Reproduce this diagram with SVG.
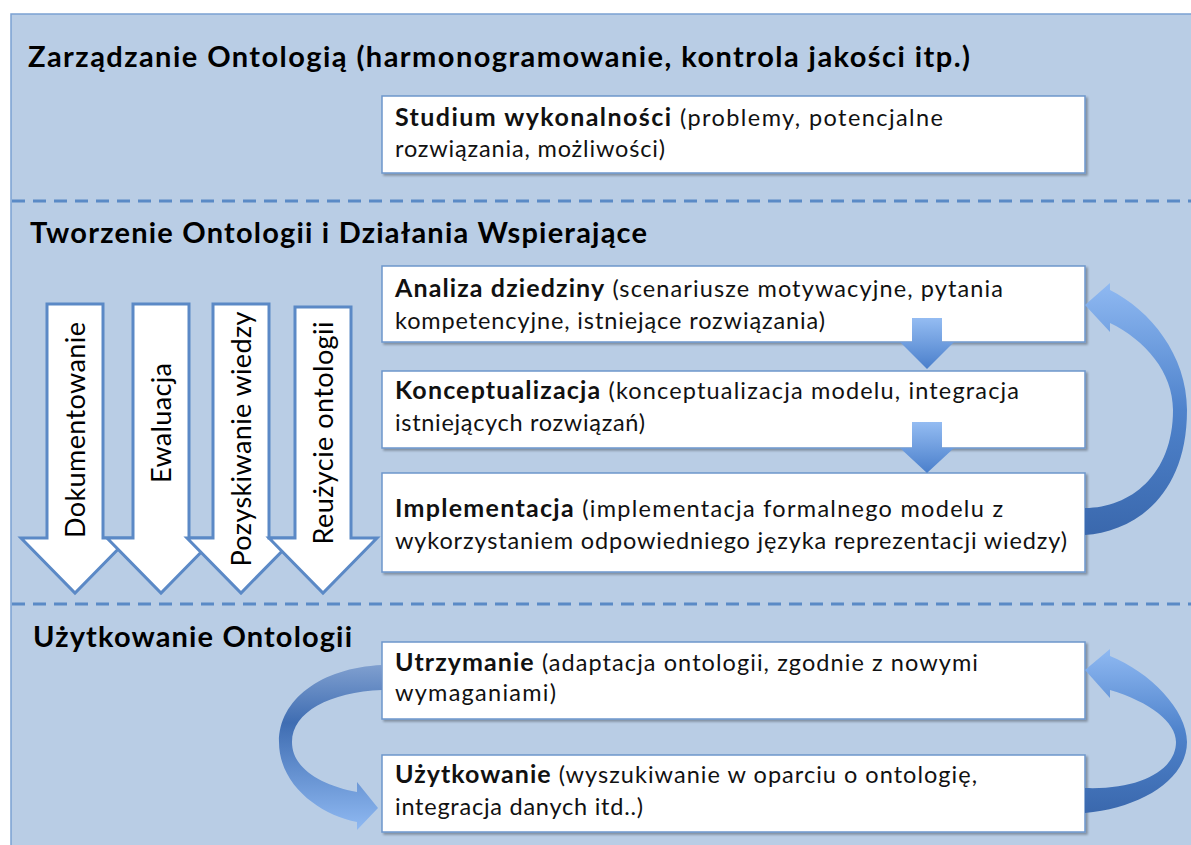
<svg xmlns="http://www.w3.org/2000/svg" width="1191" height="845" viewBox="0 0 1191 845">
<style>
.title{font-family:Lato,"Liberation Sans",sans-serif;font-weight:bold;font-size:29px;fill:#000}
.bt{font-family:Lato,"Liberation Sans",sans-serif;font-size:23.5px;fill:#111}
.b{font-weight:bold;font-size:25px}
.box{fill:#fff;stroke:#6d96cc;stroke-width:1.5;filter:url(#sh)}
.va{fill:#fff;stroke:#5b89c6;stroke-width:3;stroke-linejoin:miter}
.vt{font-family:Lato,"Liberation Sans",sans-serif;font-size:27px;fill:#000;text-anchor:middle}
.dash{stroke:#5a8ac6;stroke-width:3;stroke-dasharray:13 8}
</style>
<defs>
<filter id="sh" x="-5%" y="-10%" width="110%" height="130%">
<feDropShadow dx="2" dy="2" stdDeviation="1.2" flood-color="#000" flood-opacity="0.3"/>
</filter>
<linearGradient id="gd" x1="0" y1="0" x2="0" y2="1">
<stop offset="0" stop-color="#94bcf2"/>
<stop offset="1" stop-color="#4a7fcb"/>
</linearGradient>
<linearGradient id="gr" x1="0" y1="0" x2="0" y2="1">
<stop offset="0" stop-color="#8fb9f2"/>
<stop offset="0.5" stop-color="#4f83cc"/>
<stop offset="1" stop-color="#3a68ad"/>
</linearGradient>
<linearGradient id="gl" x1="0" y1="0" x2="0" y2="1">
<stop offset="0" stop-color="#7f9fcf"/>
<stop offset="0.35" stop-color="#3f6db2"/>
<stop offset="1" stop-color="#8fb9f2"/>
</linearGradient>
</defs>

<rect id="panel" x="11" y="14" width="1200" height="850" fill="#b9cde5" stroke="#7ba1d2" stroke-width="1.5"/>

<g id="separators">
<line class="dash" x1="12" y1="201" x2="1191" y2="201"/>
<line class="dash" x1="12" y1="604" x2="1191" y2="604"/>
</g>

<g id="section-titles">
<text class="title" x="28" y="67" textLength="942">Zarządzanie Ontologią (harmonogramowanie, kontrola jakości itp.)</text>
<text class="title" x="30" y="243" textLength="617">Tworzenie Ontologii i Działania Wspierające</text>
<text class="title" x="33" y="647" textLength="319">Użytkowanie Ontologii</text>
</g>

<g id="vertical-arrows">
<g id="dokumentowanie">
<path class="va" d="M47,304 H103 V538 H129 L75,593 L21,538 H47 Z"/>
<text class="vt" transform="translate(85,430) rotate(-90)" textLength="216">Dokumentowanie</text>
</g>
<g id="ewaluacja">
<path class="va" d="M133,304 H189 V538 H215 L161,593 L107,538 H133 Z"/>
<text class="vt" transform="translate(171,423) rotate(-90)" textLength="120">Ewaluacja</text>
</g>
<g id="pozyskiwanie">
<path class="va" d="M213,304 H269 V538 H295 L241,593 L187,538 H213 Z"/>
<text class="vt" transform="translate(251,439) rotate(-90)" textLength="255">Pozyskiwanie wiedzy</text>
</g>
<g id="reuzycie">
<path class="va" d="M295,307 H351 V538 H377 L323,593 L269,538 H295 Z"/>
<text class="vt" transform="translate(333,433) rotate(-90)" textLength="223">Reużycie ontologii</text>
</g>
</g>

<g id="studium">
<rect class="box" x="382" y="96" width="703" height="77"/>
<text class="bt" x="395" y="126" textLength="548"><tspan class="b">Studium wykonalności</tspan> (problemy, potencjalne</text>
<text class="bt" x="395" y="157" textLength="270">rozwiązania, możliwości)</text>
</g>

<g id="analiza">
<rect class="box" x="382" y="266" width="703" height="76"/>
<text class="bt" x="395" y="297" textLength="608"><tspan class="b">Analiza dziedziny</tspan> (scenariusze motywacyjne, pytania</text>
<text class="bt" x="395" y="329" textLength="430">kompetencyjne, istniejące rozwiązania)</text>
</g>

<g id="konceptualizacja">
<rect class="box" x="382" y="371" width="703" height="77"/>
<text class="bt" x="395" y="399" textLength="624"><tspan class="b">Konceptualizacja</tspan> (konceptualizacja modelu, integracja</text>
<text class="bt" x="395" y="431" textLength="250">istniejących rozwiązań)</text>
</g>

<g id="implementacja">
<rect class="box" x="382" y="473" width="703" height="99"/>
<text class="bt" x="395" y="517" textLength="608"><tspan class="b">Implementacja</tspan> (implementacja formalnego modelu z</text>
<text class="bt" x="395" y="549" textLength="672">wykorzystaniem odpowiedniego języka reprezentacji wiedzy)</text>
</g>

<g id="utrzymanie">
<rect class="box" x="382" y="642" width="703" height="77"/>
<text class="bt" x="395" y="671" textLength="583"><tspan class="b">Utrzymanie</tspan> (adaptacja ontologii, zgodnie z nowymi</text>
<text class="bt" x="395" y="701" textLength="161">wymaganiami)</text>
</g>

<g id="uzytkowanie">
<rect class="box" x="382" y="755" width="703" height="77"/>
<text class="bt" x="395" y="783" textLength="582"><tspan class="b">Użytkowanie</tspan> (wyszukiwanie w oparciu o ontologię,</text>
<text class="bt" x="395" y="815" textLength="248">integracja danych itd..)</text>
</g>

<g id="connectors">
<path fill="url(#gd)" d="M912,318 H942 V342 H954 L927,369 L900,342 H912 Z"/>
<path fill="url(#gd)" d="M912,422 H942 V448 H954 L927,473 L900,448 H912 Z"/>
<path fill="url(#gr)" d="M1085,535 C1130,532 1187,500 1187,410 C1187,355 1150,310 1110,290 L1110,283 L1085,305 L1110,332 L1110,323 C1145,340 1173,372 1173,410 C1173,475 1130,508 1085,508 Z"/>
<path fill="url(#gl)" d="M382,665 C320,668 279,700 279,742 C279,785 320,815 357,822 L357,830 L378,808 L357,782 L357,792 C320,785 292,768 292,742 C292,712 330,692 382,690 Z"/>
<path fill="url(#gr)" d="M1085,813 C1140,808 1187,780 1187,742 C1187,710 1150,672 1110,656 L1110,649 L1085,670 L1110,698 L1110,690 C1150,702 1176,722 1176,742 C1176,770 1140,790 1085,788 Z"/>
</g>
</svg>
